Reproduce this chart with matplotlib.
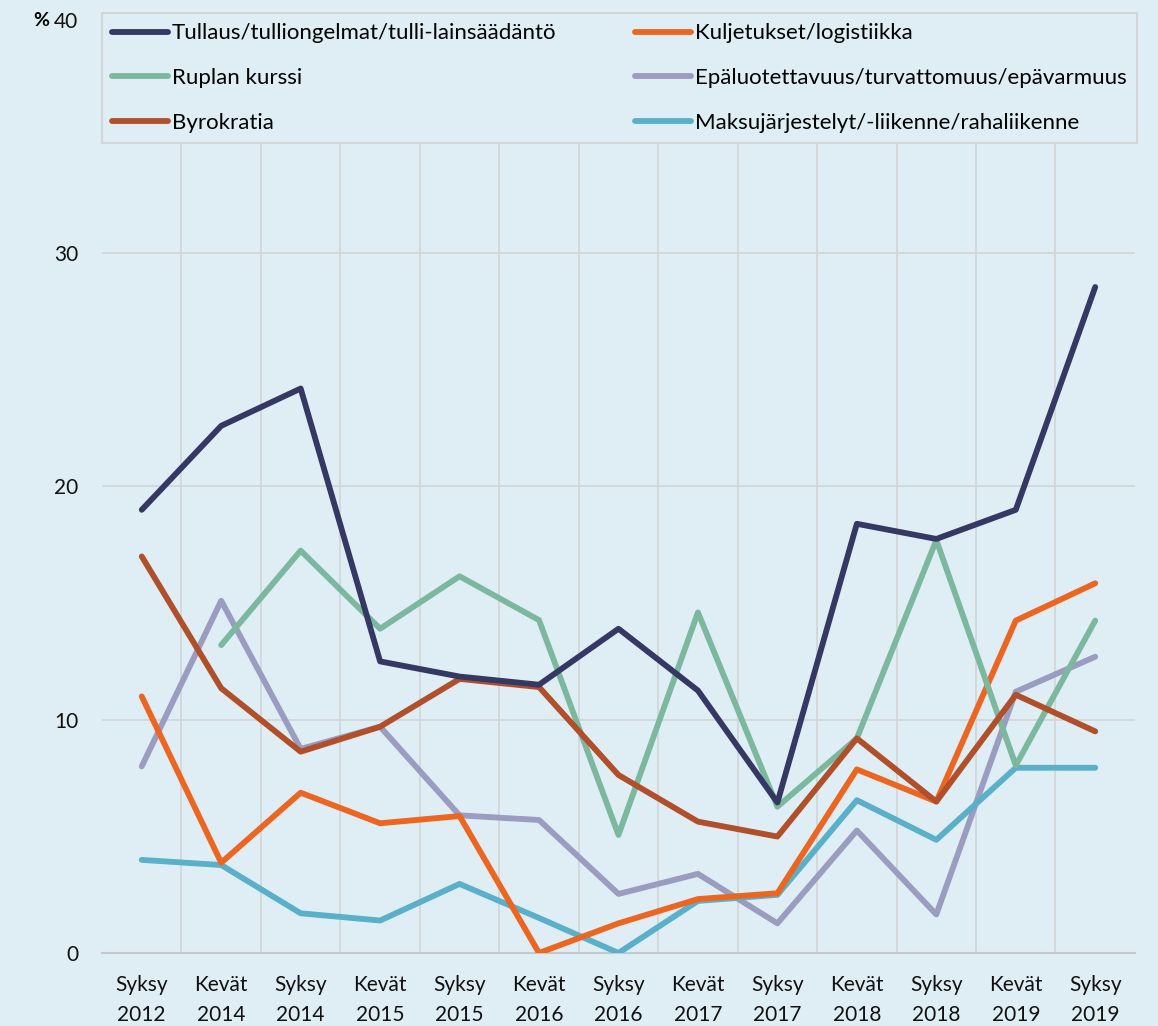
import matplotlib.pyplot as plt
import numpy as np

plt.rcParams['font.family'] = ['Lato', 'DejaVu Sans']

categories = ["Syksy\n2012", "Kevät\n2014", "Syksy\n2014", "Kevät\n2015", "Syksy\n2015",
              "Kevät\n2016", "Syksy\n2016", "Kevät\n2017", "Syksy\n2017", "Kevät\n2018",
              "Syksy\n2018", "Kevät\n2019", "Syksy\n2019"]

tullaus = [19.0, 22.6, 24.2, 12.5, 11.85, 11.5, 13.9, 11.25, 6.45, 18.4, 17.75, 19.0, 28.55]
kuljetukset = [11.0, 3.87, 6.87, 5.56, 5.87, 0.0, 1.27, 2.31, 2.56, 7.87, 6.49, 14.25, 15.85]
ruplan = [np.nan, 13.2, 17.25, 13.9, 16.15, 14.27, 5.06, 14.6, 6.27, 9.2, 17.7, 8.04, 14.25]
epaluotettavuus = [8.0, 15.1, 8.75, 9.7, 5.9, 5.7, 2.53, 3.39, 1.27, 5.25, 1.65, 11.2, 12.7]
byrokratia = [17.0, 11.35, 8.63, 9.7, 11.75, 11.4, 7.63, 5.63, 4.99, 9.2, 6.49, 11.07, 9.5]
maksu = [3.99, 3.77, 1.7, 1.39, 2.96, 1.5, 0.0, 2.23, 2.49, 6.55, 4.85, 7.94, 7.94]

bg = '#dfeef5'
grid_col = '#d2d6d9'

fig = plt.figure(figsize=(11.58, 10.26), dpi=100, facecolor=bg)
ax = fig.add_axes([0.0881, 0.0712, 0.892, 0.9093])
ax.set_facecolor(bg)

x = np.arange(len(categories))
series = [
    ("Tullaus/tulliongelmat/tulli-lainsäädäntö", tullaus, '#353862'),
    ("Ruplan kurssi", ruplan, '#7bb89d'),
    ("Byrokratia", byrokratia, '#b04f2a'),
    ("Kuljetukset/logistiikka", kuljetukset, '#ec6621'),
    ("Epäluotettavuus/turvattomuus/epävarmuus", epaluotettavuus, '#9a9cc0'),
    ("Maksujärjestelyt/-liikenne/rahaliikenne", maksu, '#5aafc9'),
]
# draw order roughly like the original (navy on top)
draw_order = [4, 5, 3, 1, 2, 0]
handles = {}
for i in draw_order:
    name, vals, col = series[i]
    ln, = ax.plot(x, vals, color=col, lw=4.2, solid_capstyle='round',
                  solid_joinstyle='round', label=name, zorder=3 + draw_order.index(i))
    handles[i] = ln

ax.set_xlim(-0.5, len(categories) - 0.5)
ax.set_ylim(0, 40)
ax.set_yticks([0, 10, 20, 30, 40])
ax.set_xticks(x)
ax.set_xticklabels(categories, linespacing=1.6)
ax.set_xticks(np.arange(0.5, len(categories) - 1, 1), minor=True)
ax.tick_params(axis='both', which='both', length=0, labelsize=15, colors='#111111')
ax.tick_params(axis='y', pad=17)
ax.tick_params(axis='x', pad=16)

ax.grid(axis='y', which='major', color=grid_col, lw=1.3, zorder=1)
ax.grid(axis='x', which='minor', color=grid_col, lw=1.3, zorder=1)
for s in ['top', 'right', 'left']:
    ax.spines[s].set_visible(False)
ax.spines['bottom'].set_color('#c4c8cc')
ax.spines['bottom'].set_linewidth(1.5)

leg = ax.legend([handles[i] for i in range(6)], [s[0] for s in series],
                ncol=2, mode='expand', loc='lower left',
                bbox_to_anchor=(0.0, 0.868, 1.002, 0.142),
                fontsize=16, handlelength=2.5, handletextpad=0.2,
                labelspacing=1.12, borderpad=0.45, borderaxespad=0,
                fancybox=False, framealpha=1)
leg.get_frame().set_facecolor(bg)
leg.get_frame().set_edgecolor('#d2d6d9')
leg.get_frame().set_linewidth(1.5)
leg.set_zorder(20)

fig.text(0.029, 0.980, '%', fontsize=14, fontweight='bold', ha='left', va='center')

fig.savefig('out.png', dpi=100, facecolor=bg)
